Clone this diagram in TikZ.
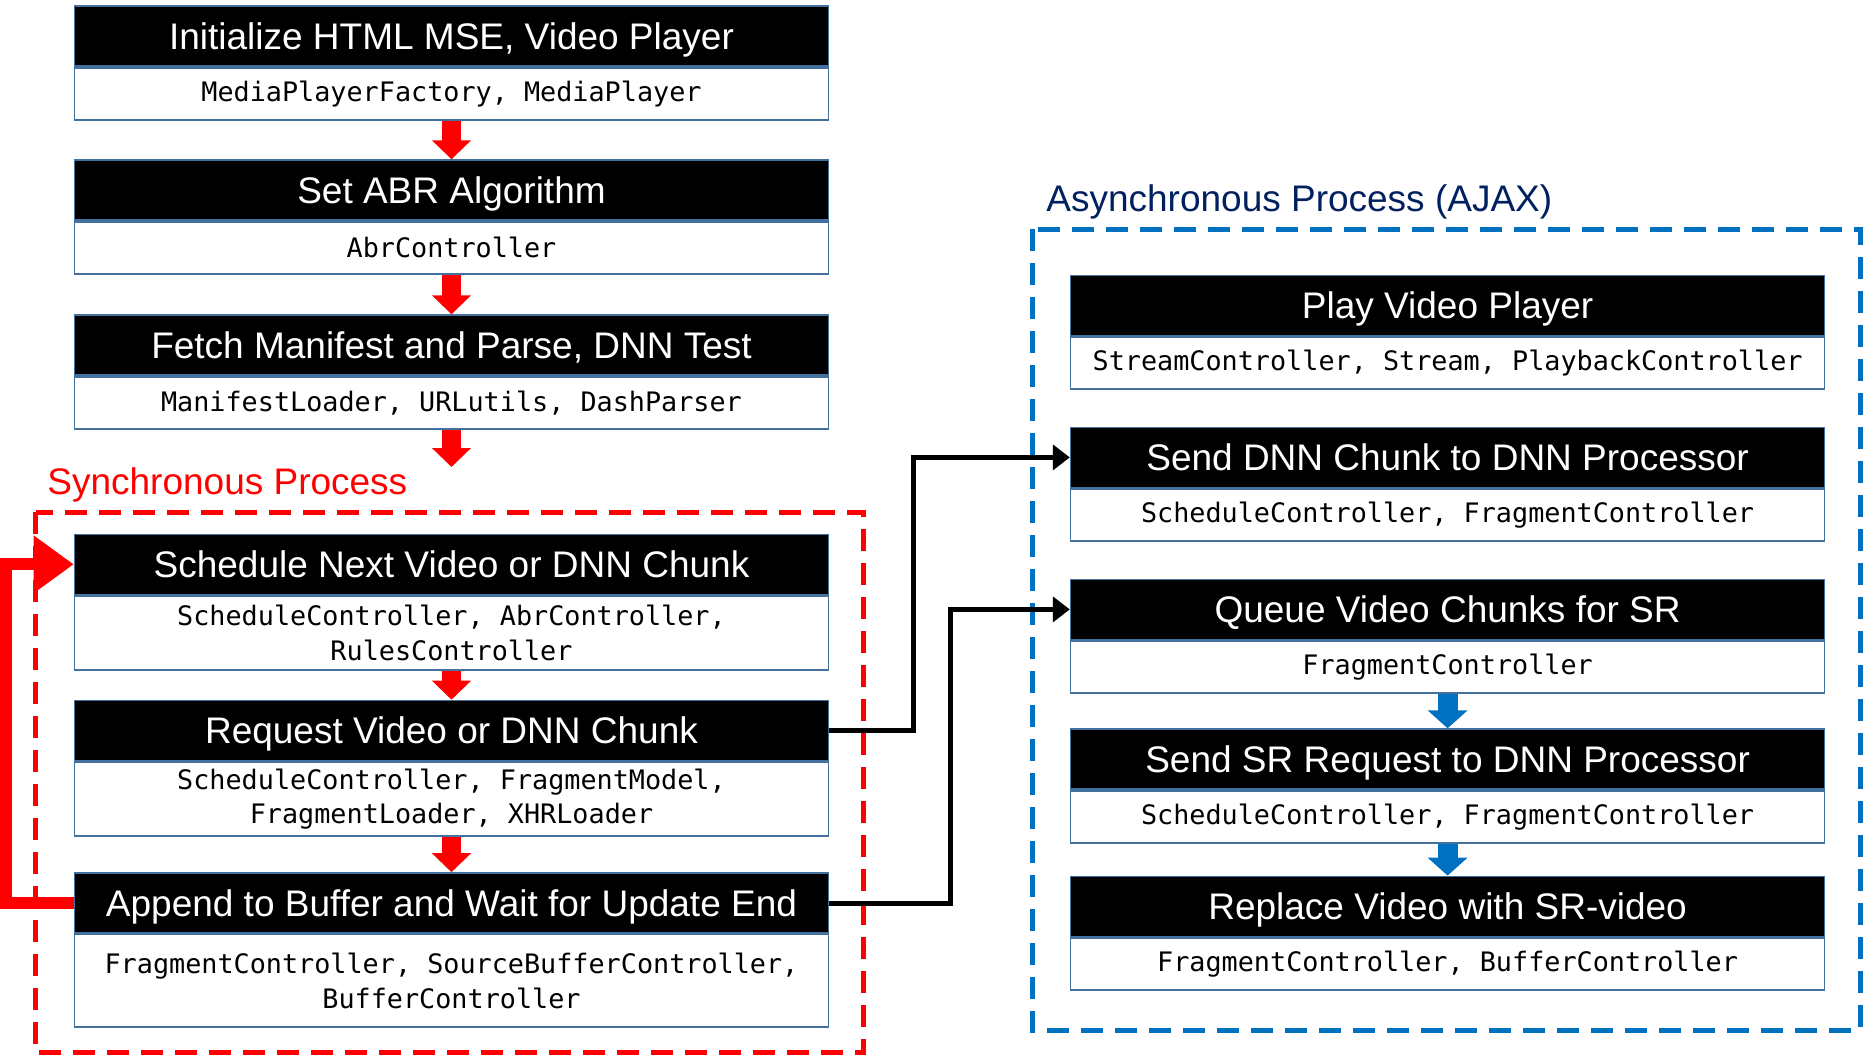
\documentclass[tikz,border=0pt]{standalone}
\usepackage{fontspec}
\setmainfont{Liberation Sans}
\setmonofont{DejaVu Sans Mono}
\usetikzlibrary{positioning, arrows.meta}
\definecolor{boxline}{RGB}{65,113,156}
\definecolor{flowblue}{RGB}{0,112,192}
\definecolor{navy}{RGB}{0,32,96}
\tikzset{
  stage/.style = {draw=boxline, line width=0.8pt, fill=black, text=white, font=\fontsize{18.5}{22}\selectfont, minimum width=377pt, minimum height=30pt, inner sep=0, text height=13.2pt, text depth=0pt},
  calls/.style = {draw=boxline, line width=0.8pt, fill=white, font=\ttfamily\fontsize{13.4}{17.3}\selectfont, align=center, minimum width=377pt, minimum height=26pt, inner sep=0},
  tag/.style = {anchor=west, inner sep=0, font=\fontsize{18.5}{22}\selectfont, text height=13.2pt, text depth=0pt},
  zone/.style = {line width=2.5pt, dash pattern=on 11pt off 6pt},
  redflow/.style = {red, line width=9.5pt, -{Triangle[width=19pt, length=9.5pt]}},
  blueflow/.style = {flowblue, line width=10pt, -{Triangle[width=19.5pt, length=9pt]}},
  loopback/.style = {red, line width=6pt, -{Triangle[width=27.5pt, length=20pt]}},
  handoff/.style = {black, line width=2.5pt, -{Triangle[width=12.5pt, length=8.5pt]}}
}

\begin{document}
\begin{tikzpicture}[x=0.5pt, y=-0.5pt]
    \useasboundingbox (0, 0) rectangle (1863, 1057);

    % process frames
    \draw [zone, red] (35.6, 512) rectangle (863.7, 1052.6);
    \draw [zone, flowblue] (1032.5, 229.3) rectangle (1860, 1030.5);
    \node [tag, text=red] (sync) at (47, 481) {Synchronous Process};
    \node [tag, text=navy] (async) at (1046, 198) {Asynchronous Process (AJAX)};

    % setup steps
    \node [stage] (init) at (451.5, 36.2) {Initialize HTML MSE, Video Player};
    \node [calls, below=0pt of init] (initc) {MediaPlayerFactory, MediaPlayer};
    \node [stage] (abr) at (451.5, 190.1) {Set ABR Algorithm};
    \node [calls, below=0pt of abr] (abrc) {AbrController};
    \node [stage] (fetch) at (451.5, 345.1) {Fetch Manifest and Parse, DNN Test};
    \node [calls, below=0pt of fetch] (fetchc) {ManifestLoader, URLutils, DashParser};
    \coordinate (fetchend) at (451.5, 467);

    % synchronous loop
    \node [stage] (sched) at (451.5, 564.3) {Schedule Next Video or DNN Chunk};
    \node [calls, below=0pt of sched, minimum height=37pt] (schedc) {ScheduleController, AbrController,\\RulesController};
    \node [stage] (req) at (451.5, 730.5) {Request Video or DNN Chunk};
    \node [calls, below=0pt of req, minimum height=37pt] (reqc) {ScheduleController, FragmentModel,\\FragmentLoader, XHRLoader};
    \node [stage] (append) at (451.5, 903) {Append to Buffer and Wait for Update End};
    \node [calls, below=0pt of append, minimum height=46.3pt] (appendc) {FragmentController, SourceBufferController,\\BufferController};

    % asynchronous steps
    \node [stage] (play) at (1447.6, 305.3) {Play Video Player};
    \node [calls, below=0pt of play] (playc) {StreamController, Stream, PlaybackController};
    \node [stage] (dnn) at (1447.6, 457.4) {Send DNN Chunk to DNN Processor};
    \node [calls, below=0pt of dnn] (dnnc) {ScheduleController, FragmentController};
    \node [stage] (queue) at (1447.6, 609.4) {Queue Video Chunks for SR};
    \node [calls, below=0pt of queue] (queuec) {FragmentController};
    \node [stage] (srreq) at (1447.6, 759.1) {Send SR Request to DNN Processor};
    \node [calls, below=0pt of srreq] (srreqc) {ScheduleController, FragmentController};
    \node [stage] (replace) at (1447.6, 906.4) {Replace Video with SR-video};
    \node [calls, below=0pt of replace] (replacec) {FragmentController, BufferController};

    \draw [redflow] (initc) -- (abr);
    \draw [redflow] (abrc) -- (fetch);
    \draw [redflow] (fetchc) -- (fetchend);
    \draw [redflow] (schedc) -- (req);
    \draw [redflow] (reqc) -- (append);
    \draw [loopback] (append.west) -- ++(-67.3, 0) |- (sched.west);

    \draw [handoff] (req.east) -- ++(84.4, 0) |- (dnn.west);
    \draw [handoff] (append.east) -- ++(121.2, 0) |- (queue.west);

    \draw [blueflow] (queuec) -- (srreq);
    \draw [blueflow] (srreqc) -- (replace);
  \end{tikzpicture}
\end{document}
